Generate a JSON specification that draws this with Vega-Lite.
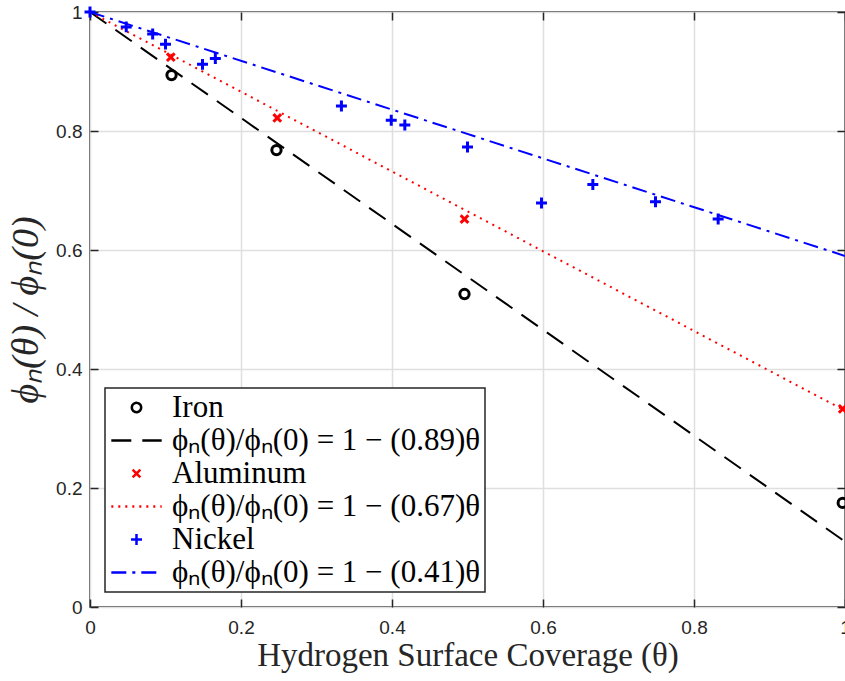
{
  "$schema": "https://vega.github.io/schema/vega-lite/v6.json",
  "width": 755,
  "height": 595,
  "autosize": {"type": "none"},
  "padding": {"left": 90, "top": 12, "right": 0, "bottom": 74},
  "background": "white",
  "config": {
    "view": {"stroke": "#262626", "strokeWidth": 1.5},
    "axis": {
      "domain": false,
      "gridColor": "#dfdfdf",
      "gridWidth": 1.5,
      "gridOpacity": 1,
      "tickColor": "#262626",
      "tickWidth": 1.5,
      "tickSize": -8,
      "labelFlush": false,
      "labelFont": "Liberation Sans",
      "labelFontSize": 19,
      "labelColor": "#262626",
      "titleFont": "Liberation Serif",
      "titleFontWeight": "normal",
      "titleColor": "#262626"
    },
    "legend": {
      "orient": "bottom-left",
      "offset": 15,
      "strokeColor": "#262626",
      "strokeWidth": 1.5,
      "fillColor": "white",
      "padding": 4,
      "labelFont": "Liberation Serif",
      "labelFontSize": 31,
      "labelColor": "#000000",
      "labelLimit": 450,
      "symbolSize": 120,
      "symbolStrokeWidth": 2.5,
      "symbolOffset": 12,
      "rowPadding": 1,
      "labelOffset": 20
    }
  },
  "data": {
    "values": [
      {"series": "Iron", "kind": "point", "x": 0.108, "y": 0.894},
      {"series": "Iron", "kind": "point", "x": 0.247, "y": 0.768},
      {"series": "Iron", "kind": "point", "x": 0.496, "y": 0.526},
      {"series": "Iron", "kind": "point", "x": 0.997, "y": 0.175},
      {"series": "Aluminum", "kind": "point", "x": 0.107, "y": 0.924},
      {"series": "Aluminum", "kind": "point", "x": 0.248, "y": 0.822},
      {"series": "Aluminum", "kind": "point", "x": 0.496, "y": 0.652},
      {"series": "Aluminum", "kind": "point", "x": 0.997, "y": 0.333},
      {"series": "Nickel", "kind": "point", "x": 0, "y": 1},
      {"series": "Nickel", "kind": "point", "x": 0.048, "y": 0.975},
      {"series": "Nickel", "kind": "point", "x": 0.083, "y": 0.963},
      {"series": "Nickel", "kind": "point", "x": 0.1, "y": 0.946},
      {"series": "Nickel", "kind": "point", "x": 0.149, "y": 0.912},
      {"series": "Nickel", "kind": "point", "x": 0.166, "y": 0.922},
      {"series": "Nickel", "kind": "point", "x": 0.333, "y": 0.842},
      {"series": "Nickel", "kind": "point", "x": 0.399, "y": 0.818},
      {"series": "Nickel", "kind": "point", "x": 0.417, "y": 0.81},
      {"series": "Nickel", "kind": "point", "x": 0.5, "y": 0.773},
      {"series": "Nickel", "kind": "point", "x": 0.598, "y": 0.679},
      {"series": "Nickel", "kind": "point", "x": 0.666, "y": 0.71},
      {"series": "Nickel", "kind": "point", "x": 0.749, "y": 0.681},
      {"series": "Nickel", "kind": "point", "x": 0.832, "y": 0.652},
      {"series": "ϕₙ(θ)/ϕₙ(0) = 1 − (0.89)θ", "kind": "fit", "x": 0, "y": 1},
      {"series": "ϕₙ(θ)/ϕₙ(0) = 1 − (0.89)θ", "kind": "fit", "x": 1, "y": 0.11},
      {"series": "ϕₙ(θ)/ϕₙ(0) = 1 − (0.67)θ", "kind": "fit", "x": 0, "y": 1},
      {"series": "ϕₙ(θ)/ϕₙ(0) = 1 − (0.67)θ", "kind": "fit", "x": 1, "y": 0.33},
      {"series": "ϕₙ(θ)/ϕₙ(0) = 1 − (0.41)θ", "kind": "fit", "x": 0, "y": 1},
      {"series": "ϕₙ(θ)/ϕₙ(0) = 1 − (0.41)θ", "kind": "fit", "x": 1, "y": 0.59}
    ]
  },
  "layer": [
    {
      "transform": [{"filter": "datum.kind == 'fit'"}],
      "mark": {"type": "line", "strokeWidth": 2},
      "encoding": {
        "x": {"field": "x", "type": "quantitative", "scale": {"domain": [0, 1], "nice": false},
          "axis": {"orient": "bottom", "values": [0, 0.2, 0.4, 0.6, 0.8, 1], "labelExpr": "format(datum.value, '~g')", "grid": true,
            "title": "Hydrogen Surface Coverage (θ)", "titleFontSize": 33, "titlePadding": 2, "labelPadding": 19}},
        "y": {"field": "y", "type": "quantitative", "scale": {"domain": [0, 1], "nice": false},
          "axis": {"orient": "left", "values": [0, 0.2, 0.4, 0.6, 0.8, 1], "labelExpr": "format(datum.value, '~g')", "grid": true,
            "title": "ϕₙ(θ) / ϕₙ(0)", "titleFontSize": 38, "titleFontStyle": "italic", "titlePadding": 10, "labelPadding": 16}},
        "color": {"field": "series", "type": "nominal",
          "scale": {"domain": ["Iron", "ϕₙ(θ)/ϕₙ(0) = 1 − (0.89)θ", "Aluminum", "ϕₙ(θ)/ϕₙ(0) = 1 − (0.67)θ", "Nickel", "ϕₙ(θ)/ϕₙ(0) = 1 − (0.41)θ"],
            "range": ["#000000", "#000000", "#ff0000", "#ff0000", "#0000ff", "#0000ff"]},
          "legend": {"title": null}},
        "strokeDash": {"field": "series", "type": "nominal",
          "scale": {"domain": ["Iron", "ϕₙ(θ)/ϕₙ(0) = 1 − (0.89)θ", "Aluminum", "ϕₙ(θ)/ϕₙ(0) = 1 − (0.67)θ", "Nickel", "ϕₙ(θ)/ϕₙ(0) = 1 − (0.41)θ"],
            "range": [[1, 0], [20, 11], [1, 0], [2, 5], [1, 0], [15, 6, 3, 6]]},
          "legend": {"title": null}}
      }
    },
    {
      "transform": [{"filter": "datum.kind == 'point'"}],
      "mark": {"type": "point", "filled": false, "strokeWidth": 3, "opacity": 1, "size": 120},
      "encoding": {
        "x": {"field": "x", "type": "quantitative", "scale": {"domain": [0, 1], "nice": false},
          "axis": {"orient": "top", "labels": false, "title": null, "grid": false, "values": [0, 0.2, 0.4, 0.6, 0.8, 1]}},
        "y": {"field": "y", "type": "quantitative", "scale": {"domain": [0, 1], "nice": false},
          "axis": {"orient": "right", "labels": false, "title": null, "grid": false, "values": [0, 0.2, 0.4, 0.6, 0.8, 1]}},
        "color": {"field": "series", "type": "nominal", "legend": {"title": null}},
        "shape": {"field": "series", "type": "nominal",
          "scale": {"domain": ["Iron", "ϕₙ(θ)/ϕₙ(0) = 1 − (0.89)θ", "Aluminum", "ϕₙ(θ)/ϕₙ(0) = 1 − (0.67)θ", "Nickel", "ϕₙ(θ)/ϕₙ(0) = 1 − (0.41)θ"],
            "range": ["M0.85,0A0.85,0.85 0 1,1 -0.85,0A0.85,0.85 0 1,1 0.85,0Z", "M-4.6,0L4.6,0", "M-0.7,-0.7L0.7,0.7M0.7,-0.7L-0.7,0.7", "M-4.6,0L4.6,0", "M-1,0L1,0M0,-1L0,1", "M-4.6,0L4.6,0"]},
          "legend": {"title": null}}
      }
    }
  ],
  "resolve": {"axis": {"x": "independent", "y": "independent"}}
}
